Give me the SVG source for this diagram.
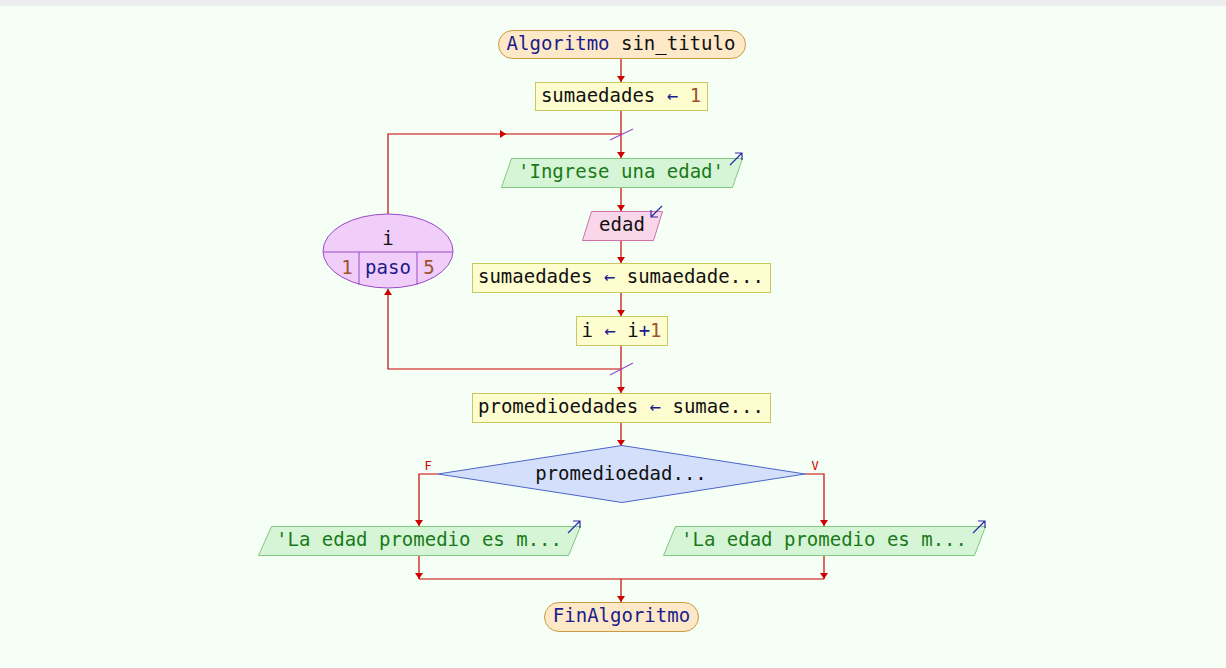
<svg xmlns="http://www.w3.org/2000/svg" width="1226" height="668" viewBox="0 0 1226 668">
<style>
text{font-family:"DejaVu Sans Mono","Liberation Mono",monospace;font-size:19px;fill:#111;text-anchor:middle}
.kw{fill:#1c1c8c}
.num{fill:#a0522d}
.str{fill:#1a7a1a}
.lbl{font-size:12px;fill:#cc0000}
.term{fill:#fde9c8;stroke:#c99a3e;stroke-width:1}
.proc{fill:#fdfdd0;stroke:#c8c860;stroke-width:1}
.out{fill:#d6f5d6;stroke:#80c880;stroke-width:1}
.inp{fill:#fad6ea;stroke:#d070a8;stroke-width:1}
.dec{fill:#d4e0fb;stroke:#4a64c8;stroke-width:1}
.loop{fill:#f1cdf9;stroke:#9a4ac8;stroke-width:1}
.conn path{fill:none;stroke:#cc0000;stroke-width:1.2}
.tick{stroke:#9a4ad8;stroke-width:1.2}
.io{fill:none;stroke:#2a2aa8;stroke-width:1.2}
</style>
<defs>
<marker id="ah" viewBox="0 0 10 10" refX="10" refY="5" markerWidth="6" markerHeight="8" markerUnits="userSpaceOnUse" orient="auto" preserveAspectRatio="none"><path d="M0,0 L10,5 L0,10 z" fill="#cc0000"/></marker>
</defs>
<rect width="1226" height="668" fill="#f5fff5"/>
<rect width="1226" height="6" fill="#eeeeee"/>

<g class="conn">
<path d="M621,58 V82" marker-end="url(#ah)"/>
<path d="M621,110 V158" marker-end="url(#ah)"/>
<path d="M388,214 V134 H506" marker-end="url(#ah)"/>
<path d="M504,134 H621"/>
<path d="M621,187 V211" marker-end="url(#ah)"/>
<path d="M621,240 V263" marker-end="url(#ah)"/>
<path d="M621,292 V316" marker-end="url(#ah)"/>
<path d="M621,346 V393" marker-end="url(#ah)"/>
<path d="M621,369 H388 V289" marker-end="url(#ah)"/>
<path d="M621,422 V446" marker-end="url(#ah)"/>
<path d="M438,474 H419 V526" marker-end="url(#ah)"/>
<path d="M805,474 H824 V526" marker-end="url(#ah)"/>
<path d="M419,555 V579" marker-end="url(#ah)"/>
<path d="M824,555 V579" marker-end="url(#ah)"/>
<path d="M419,579 H824"/>
<path d="M621,579 V602" marker-end="url(#ah)"/>
<line class="tick" x1="610" y1="140" x2="633" y2="129"/>
<line class="tick" x1="610" y1="375" x2="633" y2="363"/>
</g>

<g id="start">
<rect class="term" x="498.5" y="30.5" width="247" height="28" rx="14"/>
<text x="621" y="50"><tspan class="kw">Algoritmo</tspan> sin_titulo</text>
</g>

<g id="assign1">
<rect class="proc" x="535.5" y="82.5" width="172" height="28"/>
<text x="621" y="102">sumaedades <tspan class="kw">←</tspan> <tspan class="num">1</tspan></text>
</g>

<g id="loop">
<ellipse class="loop" cx="388" cy="251" rx="65" ry="37"/>
<line x1="323" y1="252" x2="453" y2="252" stroke="#9a4ac8" stroke-width="1"/>
<line x1="359" y1="252" x2="359" y2="285" stroke="#9a4ac8" stroke-width="1"/>
<line x1="417" y1="252" x2="417" y2="285" stroke="#9a4ac8" stroke-width="1"/>
<text x="388" y="245">i</text>
<text x="347" y="274" class="num">1</text>
<text x="388" y="274" class="kw">paso</text>
<text x="429" y="274" class="num">5</text>
</g>

<g id="output1">
<polygon class="out" points="511.5,158.5 742.5,158.5 732.5,187.5 501.5,187.5"/>
<text x="621" y="178" class="str">'Ingrese una edad'</text>
<path class="io" d="M730,165 L742,153 M735,153 H742 V160"/>
</g>

<g id="input1">
<polygon class="inp" points="591.5,211.5 662.5,211.5 653.5,240.5 582.5,240.5"/>
<text x="622" y="231">edad</text>
<path class="io" d="M662,206 L651,217 M651,210 V217 H658"/>
</g>

<g id="assign2">
<rect class="proc" x="472.5" y="263.5" width="298" height="29"/>
<text x="621" y="283">sumaedades <tspan class="kw">←</tspan> sumaedade...</text>
</g>

<g id="assign3">
<rect class="proc" x="576.5" y="316.5" width="91" height="29"/>
<text x="621.5" y="337">i <tspan class="kw">←</tspan> i<tspan class="kw">+</tspan><tspan class="num">1</tspan></text>
</g>

<g id="assign4">
<rect class="proc" x="472.5" y="393.5" width="298" height="29"/>
<text x="621" y="413">promedioedades <tspan class="kw">←</tspan> sumae...</text>
</g>

<g id="decision">
<polygon class="dec" points="622,445.5 805,474 622,502.5 438,474"/>
<text x="621" y="480">promedioedad...</text>
<text x="428" y="470" class="lbl">F</text>
<text x="815" y="470" class="lbl">V</text>
</g>

<g id="outputF">
<polygon class="out" points="271.5,526.5 580.5,526.5 568.5,555.5 258.5,555.5"/>
<text x="419" y="546" class="str">'La edad promedio es m...</text>
<path class="io" d="M568,533 L580,521 M573,521 H580 V528"/>
</g>

<g id="outputV">
<polygon class="out" points="675.5,526.5 985.5,526.5 974.5,555.5 663.5,555.5"/>
<text x="824" y="546" class="str">'La edad promedio es m...</text>
<path class="io" d="M973,533 L985,521 M978,521 H985 V528"/>
</g>

<g id="end">
<rect class="term" x="544.5" y="602.5" width="154" height="29" rx="14.5"/>
<text x="621.5" y="622" class="kw">FinAlgoritmo</text>
</g>
</svg>
